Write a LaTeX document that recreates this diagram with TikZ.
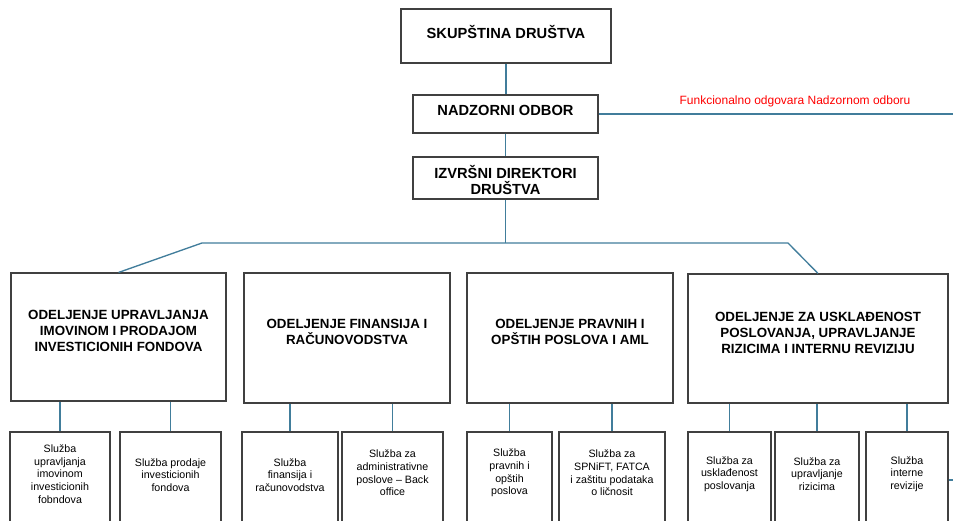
\documentclass[tikz,border=0pt]{standalone}
\usepackage{fontspec}
\setmainfont{Liberation Sans}
\definecolor{lineBlue}{RGB}{65,125,155}
\begin{document}
\begin{tikzpicture}
[boxDecorate/.style={shape=rectangle,draw=black!75,line width=0.8pt,inner sep=0pt},
  lineDecorate/.style={-,draw=lineBlue,line width=1pt},
  headText/.style={font=\fontsize{11}{12.5}\selectfont\bfseries,align=center},
  deptText/.style={font=\fontsize{10}{12}\selectfont\bfseries,align=center},
  unitText/.style={font=\fontsize{8}{9.5}\selectfont,align=center},
  x=0.75pt,y=-0.75pt]
\useasboundingbox (0,0) rectangle (953,521);
\clip (0,0) rectangle (953,521);
%% boxes
\foreach \nodename/\x/\y/\w/\h in {
  sk/506/36/210/54,
  nad/505.5/114/185/38,
  izv/505.5/178/185/42,
  d1/118.5/337/215/128,
  d2/347/338/206/130,
  d3/570/338/206/130,
  d4/818/338.5/260/129,
  s1/60/486/100/108,
  s2/170.5/486/101/108,
  s3/290/486/96/108,
  s4/392.5/486/101/108,
  s5/509.5/486/85/108,
  s6/612/486/106/108,
  s7/729.5/486/83/108,
  s8/817/486/84/108,
  s9/907/486/82/108}
{
  \node (\nodename) at (\x,\y) [boxDecorate,minimum width=\w*0.75pt,minimum height=\h*0.75pt] {};
}
%% texts
\node (sk-txt) at (506,32) [headText] {SKUPŠTINA DRUŠTVA};
\node (nad-txt) at (505.5,110) [headText] {NADZORNI ODBOR};
\node (izv-txt) at (505.5,180) [headText] {IZVRŠNI DIREKTORI\\DRUŠTVA};
\foreach \nodename/\x/\y/\txt in {
  d1/118.5/331/{ODELJENJE UPRAVLJANJA\\IMOVINOM I PRODAJOM\\INVESTICIONIH FONDOVA},
  d2/347/332/{ODELJENJE FINANSIJA I\\RAČUNOVODSTVA},
  d3/570/332/{ODELJENJE PRAVNIH I\\OPŠTIH POSLOVA I AML},
  d4/818/333/{ODELJENJE ZA USKLAĐENOST\\POSLOVANJA, UPRAVLJANJE\\RIZICIMA I INTERNU REVIZIJU}}
{
  \node (\nodename-txt) at (\x,\y) [deptText] {\txt};
}
\foreach \nodename/\x/\y/\txt in {
  s1/60/474/{Služba\\upravljanja\\imovinom\\investicionih\\fobndova},
  s2/170.5/475/{Služba prodaje\\investicionih\\fondova},
  s3/290/475/{Služba\\finansija i\\računovodstva},
  s4/392.5/473/{Služba za\\administrativne\\poslove – Back\\office},
  s5/509.5/473/{Služba\\pravnih i\\opštih\\poslova},
  s6/612/473/{Služba za\\SPNiFT, FATCA\\i zaštitu podataka\\o ličnosit},
  s7/729.5/474/{Služba za\\usklađenost\\poslovanja},
  s8/817/474/{Služba za\\upravljanje\\rizicima},
  s9/907/474/{Služba\\interne\\revizije}}
{
  \node (\nodename-txt) at (\x,\y) [unitText] {\txt};
}
\node (note) at (795,101) [font=\fontsize{9}{11}\selectfont,text=red] {Funkcionalno odgovara Nadzornom odboru};
%% edges or lines
\coordinate (busL) at (202,243);
\coordinate (busR) at (788,243);
\coordinate (nadOut) at (953,114);
\coordinate (revOut) at (953,480);
\draw[lineDecorate] (sk.south) -- (sk.south |- nad.north);
\draw[lineDecorate] (nad.south) -- (nad.south |- izv.north);
\draw[lineDecorate] (izv.south) -- (izv.south |- busL);
\draw[lineDecorate] (d1.north) -- (busL) -- (busR) -- (d4.north);
\draw[lineDecorate] (nad.east) -- (nadOut);
\draw[lineDecorate] (revOut -| s9.east) -- (revOut);
\path
\foreach \startnode/\endnode in {
  d1/s1, d1/s2, d2/s3, d2/s4, d3/s5, d3/s6, d4/s7, d4/s8, d4/s9}
{
  (\endnode.north) edge[lineDecorate] (\endnode.north |- \startnode.south)
};
\end{tikzpicture}
\end{document}
